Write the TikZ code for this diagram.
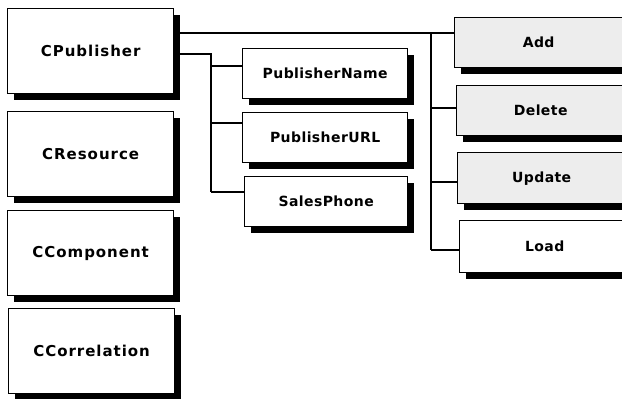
\documentclass[tikz,border=0pt]{standalone}
\usepackage{fontspec}
\setmainfont{DejaVu Sans}
\newfontfamily\classfont[LetterSpace=6.5]{DejaVu Sans}
\newfontfamily\memberfont[LetterSpace=3]{DejaVu Sans}
\usetikzlibrary{shadows}
\tikzset{
  card/.style={draw=black, line width=1.3pt, fill=white, inner sep=0pt,
    anchor=north west, text=black,
    drop shadow={shadow xshift=6pt, shadow yshift=-6pt, opacity=1, fill=black}},
  classbox/.style={card, minimum width=166pt, minimum height=85pt,
    font=\classfont\bfseries\fontsize{15}{18}\selectfont},
  memberbox/.style={card, minimum width=165pt, minimum height=50pt,
    font=\memberfont\bfseries\fontsize{14}{16}\selectfont},
  methodbox/.style={memberbox, minimum width=168pt},
  shaded/.style={fill=black!7},
  conn/.style={draw=black, line width=1.3pt}
}
\begin{document}
\begin{tikzpicture}[x=1pt,y=-1pt]
\useasboundingbox (0,0) rectangle (622,399);
\fill[white] (0,0) rectangle (622,399);
\clip (0,0) rectangle (622,399);

% class boxes on the left
\node[classbox] (cpub)  at (7,8)   {CPublisher};
\node[classbox] (cres)  at (7,111) {CResource};
\node[classbox] (ccomp) at (7,210) {CComponent};
\node[classbox] (ccorr) at (8,308) {CCorrelation};

% property boxes
\node[memberbox] (pname) at (242,48)  {PublisherName};
\node[memberbox] (purl)  at (242,112) {PublisherURL};
\node[memberbox, minimum width=163pt] (sphone) at (244,176) {SalesPhone};

% method boxes
\node[methodbox, shaded] (add)    at (454,17)  {Add};
\node[methodbox, shaded] (delete) at (456,85)  {Delete};
\node[methodbox, shaded, minimum height=51pt] (update) at (457,152) {Update};
\node[methodbox, minimum height=52pt, minimum width=170pt] (load) at (459,220) {Load};

% bus points
\coordinate (mbus)  at (431,33);
\coordinate (pbus)  at (211,54);
\coordinate (bdel)  at (431,108);
\coordinate (bupd)  at (431,182);
\coordinate (bload) at (431,250);
\coordinate (bpn)   at (211,66);
\coordinate (bpu)   at (211,123);
\coordinate (bsp)   at (211,192);

% methods connector
\draw[conn] (cpub.east |- mbus) -- (add.west |- mbus);
\draw[conn] (mbus) -- (bload);
\draw[conn] (bdel) -- (delete.west |- bdel);
\draw[conn] (bupd) -- (update.west |- bupd);
\draw[conn] (bload) -- (load.west |- bload);

% properties connector
\draw[conn] (cpub.east |- pbus) -- (pbus) -- (bsp);
\draw[conn] (bpn) -- (pname.west |- bpn);
\draw[conn] (bpu) -- (purl.west |- bpu);
\draw[conn] (bsp) -- (sphone.west |- bsp);
\end{tikzpicture}
\end{document}
